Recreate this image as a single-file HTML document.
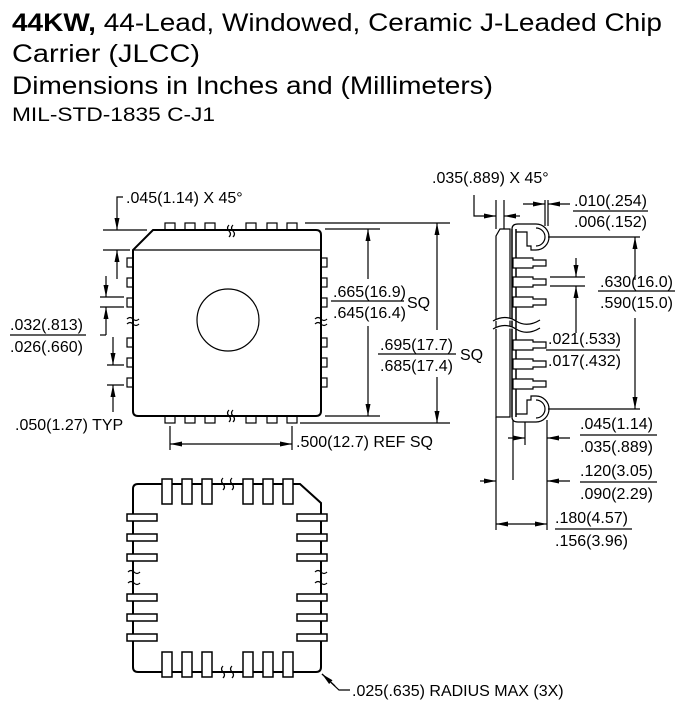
<!DOCTYPE html>
<html><head><meta charset="utf-8"><style>
html,body{margin:0;padding:0;background:#fff;}
svg{display:block;}
text{font-family:"Liberation Sans",Arial,sans-serif;fill:#000;}
</style></head><body>
<svg width="688" height="709" viewBox="0 0 688 709" xmlns="http://www.w3.org/2000/svg">
<defs>
<marker id="a" viewBox="0 0 12 6" refX="12" refY="3" markerWidth="12" markerHeight="6" orient="auto" markerUnits="userSpaceOnUse"><path d="M0,0.5 L12,3 L0,5.5z" fill="#000"/></marker>
</defs>
<text x="12" y="31" font-size="25" textLength="650" lengthAdjust="spacingAndGlyphs"><tspan font-weight="bold">44KW,</tspan> 44-Lead, Windowed, Ceramic J-Leaded Chip</text>
<text x="12" y="62" font-size="25" textLength="188" lengthAdjust="spacingAndGlyphs">Carrier (JLCC)</text>
<text x="12" y="94" font-size="25" textLength="481" lengthAdjust="spacingAndGlyphs">Dimensions in Inches and (Millimeters)</text>
<text x="12" y="121" font-size="19" textLength="203" lengthAdjust="spacingAndGlyphs">MIL-STD-1835 C-J1</text>

<g stroke="#000" fill="none" stroke-width="1.2">
<path d="M153,230 L316,230 Q321,230 321,235 L321,411 Q321,416 316,416 L138,416 Q133,416 133,411 L133,250 Z" stroke-width="2"/>
<line x1="133" y1="250" x2="321" y2="250"/>
<circle cx="228" cy="320" r="31"/>
<rect x="165" y="223" width="10" height="7"/><rect x="185" y="223" width="10" height="7"/><rect x="205" y="223" width="10" height="7"/>
<rect x="246" y="223" width="10" height="7"/><rect x="267" y="223" width="10" height="7"/><rect x="287" y="223" width="10" height="7"/>
<rect x="165" y="416" width="10" height="7"/><rect x="185" y="416" width="10" height="7"/><rect x="205" y="416" width="10" height="7"/>
<rect x="246" y="416" width="10" height="7"/><rect x="267" y="416" width="10" height="7"/><rect x="287" y="416" width="10" height="7"/>
<rect x="127" y="258" width="6" height="9"/><rect x="127" y="278" width="6" height="9"/><rect x="127" y="298" width="6" height="9"/>
<rect x="127" y="338" width="6" height="9"/><rect x="127" y="358" width="6" height="9"/><rect x="127" y="378" width="6" height="9"/>
<rect x="321" y="258" width="6" height="9"/><rect x="321" y="278" width="6" height="9"/><rect x="321" y="298" width="6" height="9"/>
<rect x="321" y="338" width="6" height="9"/><rect x="321" y="358" width="6" height="9"/><rect x="321" y="378" width="6" height="9"/>
<path d="M229,225 q-3,3 0,6 q3,3 0,6 M233,225 q-3,3 0,6 q3,3 0,6"/>
<path d="M229,410 q-3,3 0,6 q3,3 0,6 M233,410 q-3,3 0,6 q3,3 0,6"/>
<path d="M127,319 q3,-3 6,0 q3,3 6,0 M127,324 q3,-3 6,0 q3,3 6,0"/>
<path d="M315,319 q3,-3 6,0 q3,3 6,0 M315,324 q3,-3 6,0 q3,3 6,0"/>
<line x1="305" y1="223" x2="450" y2="223"/>
<line x1="325" y1="229" x2="380" y2="229"/>
<line x1="325" y1="416" x2="380" y2="416"/>
<line x1="300" y1="423" x2="450" y2="423"/>
<line x1="368" y1="279" x2="368" y2="229" marker-end="url(#a)"/>
<line x1="368" y1="326" x2="368" y2="416" marker-end="url(#a)"/>
<line x1="437" y1="330" x2="437" y2="223" marker-end="url(#a)"/>
<line x1="437" y1="377" x2="437" y2="423" marker-end="url(#a)"/>
<line x1="331" y1="301" x2="404" y2="301"/>
<line x1="378" y1="354" x2="456" y2="354"/>
<path d="M123,197 L117,197 L117,230" marker-end="url(#a)"/>
<line x1="103" y1="230" x2="147" y2="230"/>
<line x1="103" y1="250" x2="130" y2="250"/>
<line x1="117" y1="279" x2="117" y2="250" marker-end="url(#a)"/>
<line x1="106" y1="276" x2="106" y2="297" marker-end="url(#a)"/>
<line x1="100" y1="297" x2="124" y2="297"/>
<line x1="100" y1="307" x2="124" y2="307"/>
<path d="M106,335 L106,307" marker-end="url(#a)"/>
<line x1="106" y1="335" x2="100" y2="335"/>
<line x1="10" y1="335" x2="86" y2="335"/>
<line x1="113" y1="337" x2="113" y2="365" marker-end="url(#a)"/>
<line x1="107" y1="365" x2="124" y2="365"/>
<line x1="107" y1="385" x2="124" y2="385"/>
<line x1="113" y1="412" x2="113" y2="385" marker-end="url(#a)"/>
<line x1="170" y1="426" x2="170" y2="450"/>
<line x1="292" y1="426" x2="292" y2="450"/>
<line x1="231" y1="444" x2="170" y2="444" marker-end="url(#a)"/>
<line x1="231" y1="444" x2="292" y2="444" marker-end="url(#a)"/>

<!-- SIDE VIEW -->
<path d="M500,229 L510,229 L510,417 L496,417 L496,236 Z"/>
<line x1="496" y1="200" x2="496" y2="229"/>
<line x1="504" y1="200" x2="504" y2="229"/>
<line x1="545" y1="200" x2="545" y2="226"/>
<line x1="548" y1="200" x2="548" y2="226"/>
<path d="M474,195 L474,216 L496,216" marker-end="url(#a)"/>
<line x1="520" y1="216" x2="504" y2="216" marker-end="url(#a)"/>
<line x1="523" y1="204" x2="545" y2="204" marker-end="url(#a)"/>
<line x1="570" y1="204" x2="548" y2="204" marker-end="url(#a)"/>
<path d="M512,229 L512,417 M516,229 L516,417" stroke-width="1.5"/>
<path d="M512,229 Q512,224 518,224 L536,224 A13,13 0 0 1 536,250 L531,250 L531,246 L527,246 L527,232 L516,232"/>
<path d="M512,417 Q512,422 518,422 L536,422 A13,13 0 0 0 536,396 L531,396 L531,400 L527,400 L527,414 L516,414"/>
<path d="M536,228 A9,9 0 0 1 536,246"/>
<path d="M536,418 A9,9 0 0 0 536,400"/>
<g fill="#fff">
<path d="M513,258 h20 v2 h13 v6 h-13 v2 h-20z"/><path d="M513,277 h20 v2 h13 v6 h-13 v2 h-20z"/><path d="M513,297 h20 v2 h13 v6 h-13 v2 h-20z"/>
<path d="M513,340 h20 v2 h13 v6 h-13 v2 h-20z"/><path d="M513,359 h20 v2 h13 v6 h-13 v2 h-20z"/><path d="M513,379 h20 v2 h13 v6 h-13 v2 h-20z"/>
</g>
<path d="M493,321 Q505,314 516,321 T540,320 M493,329 Q505,322 516,329 T540,328" fill="#fff" stroke="#000"/>
<line x1="548" y1="237" x2="640" y2="237"/>
<line x1="548" y1="409" x2="640" y2="409"/>
<line x1="635" y1="280" x2="635" y2="237" marker-end="url(#a)"/>
<line x1="635" y1="318" x2="635" y2="409" marker-end="url(#a)"/>
<line x1="550" y1="277" x2="585" y2="277"/>
<line x1="550" y1="286" x2="585" y2="286"/>
<line x1="576" y1="258" x2="576" y2="277" marker-end="url(#a)"/>
<line x1="576" y1="333" x2="576" y2="286" marker-end="url(#a)"/>
<line x1="573" y1="211" x2="648" y2="211"/>
<line x1="598" y1="291" x2="675" y2="291"/>
<line x1="546" y1="350" x2="620" y2="350"/>
<line x1="496" y1="417" x2="496" y2="530"/>
<line x1="513" y1="420" x2="513" y2="480"/>
<line x1="525" y1="422" x2="525" y2="445"/>
<line x1="547" y1="420" x2="547" y2="530"/>
<line x1="508" y1="438" x2="525" y2="438" marker-end="url(#a)"/>
<line x1="570" y1="438" x2="547" y2="438" marker-end="url(#a)"/>
<line x1="480" y1="481" x2="496" y2="481" marker-end="url(#a)"/>
<line x1="570" y1="481" x2="547" y2="481" marker-end="url(#a)"/>
<line x1="521" y1="524" x2="496" y2="524" marker-end="url(#a)"/>
<line x1="521" y1="524" x2="547" y2="524" marker-end="url(#a)"/>
<line x1="580" y1="435" x2="657" y2="435"/>
<line x1="580" y1="482" x2="657" y2="482"/>
<line x1="555" y1="529" x2="632" y2="529"/>

<!-- BOTTOM VIEW -->
<path d="M138,484 L300,484 L321,503 L321,667 Q321,672 316,672 L138,672 Q133,672 133,667 L133,489 Q133,484 138,484 Z" stroke-width="2"/>
<g fill="#fff" stroke-width="1.5">
<rect x="162" y="479" width="10" height="25"/><rect x="182" y="479" width="10" height="25"/><rect x="202" y="479" width="10" height="25"/>
<rect x="243" y="479" width="10" height="25"/><rect x="263" y="479" width="10" height="25"/><rect x="283" y="479" width="10" height="25"/>
<rect x="162" y="652" width="10" height="25"/><rect x="182" y="652" width="10" height="25"/><rect x="202" y="652" width="10" height="25"/>
<rect x="243" y="652" width="10" height="25"/><rect x="263" y="652" width="10" height="25"/><rect x="283" y="652" width="10" height="25"/>
<rect x="127" y="514" width="30" height="7"/><rect x="127" y="534" width="30" height="7"/><rect x="127" y="554" width="30" height="7"/>
<rect x="127" y="594" width="30" height="7"/><rect x="127" y="614" width="30" height="7"/><rect x="127" y="634" width="30" height="7"/>
<rect x="297" y="514" width="30" height="7"/><rect x="297" y="534" width="30" height="7"/><rect x="297" y="554" width="30" height="7"/>
<rect x="297" y="594" width="30" height="7"/><rect x="297" y="614" width="30" height="7"/><rect x="297" y="634" width="30" height="7"/>
</g>
<path d="M223,478 q-3,3 0,6 q3,3 0,6 M232,478 q-3,3 0,6 q3,3 0,6"/>
<path d="M223,666 q-3,3 0,6 q3,3 0,6 M232,666 q-3,3 0,6 q3,3 0,6"/>
<path d="M128,572 q3,-3 6,0 q3,3 6,0 M128,583 q3,-3 6,0 q3,3 6,0"/>
<path d="M315,572 q3,-3 6,0 q3,3 6,0 M315,583 q3,-3 6,0 q3,3 6,0"/>
<path d="M350,690 L339,690 L322,674"/>
<line x1="335" y1="686" x2="322" y2="674" marker-end="url(#a)"/>
</g>

<g font-size="16">
<text x="126" y="203">.045(1.14) X 45°</text>
<text x="333" y="297">.665(16.9)</text>
<text x="333" y="318">.645(16.4)</text>
<text x="407" y="308">SQ</text>
<text x="380" y="350">.695(17.7)</text>
<text x="380" y="371">.685(17.4)</text>
<text x="460" y="360">SQ</text>
<text x="10" y="330">.032(.813)</text>
<text x="10" y="352">.026(.660)</text>
<text x="15" y="430">.050(1.27) TYP</text>
<text x="296" y="447">.500(12.7) REF SQ</text>
<text x="432" y="183">.035(.889) X 45°</text>
<text x="574" y="206">.010(.254)</text>
<text x="574" y="227">.006(.152)</text>
<text x="600" y="287">.630(16.0)</text>
<text x="600" y="308">.590(15.0)</text>
<text x="548" y="344">.021(.533)</text>
<text x="548" y="366">.017(.432)</text>
<text x="580" y="429">.045(1.14)</text>
<text x="580" y="452">.035(.889)</text>
<text x="580" y="476">.120(3.05)</text>
<text x="580" y="499">.090(2.29)</text>
<text x="555" y="523">.180(4.57)</text>
<text x="555" y="546">.156(3.96)</text>
<text x="352" y="696">.025(.635) RADIUS MAX (3X)</text>
</g>
</svg>
</body></html>
